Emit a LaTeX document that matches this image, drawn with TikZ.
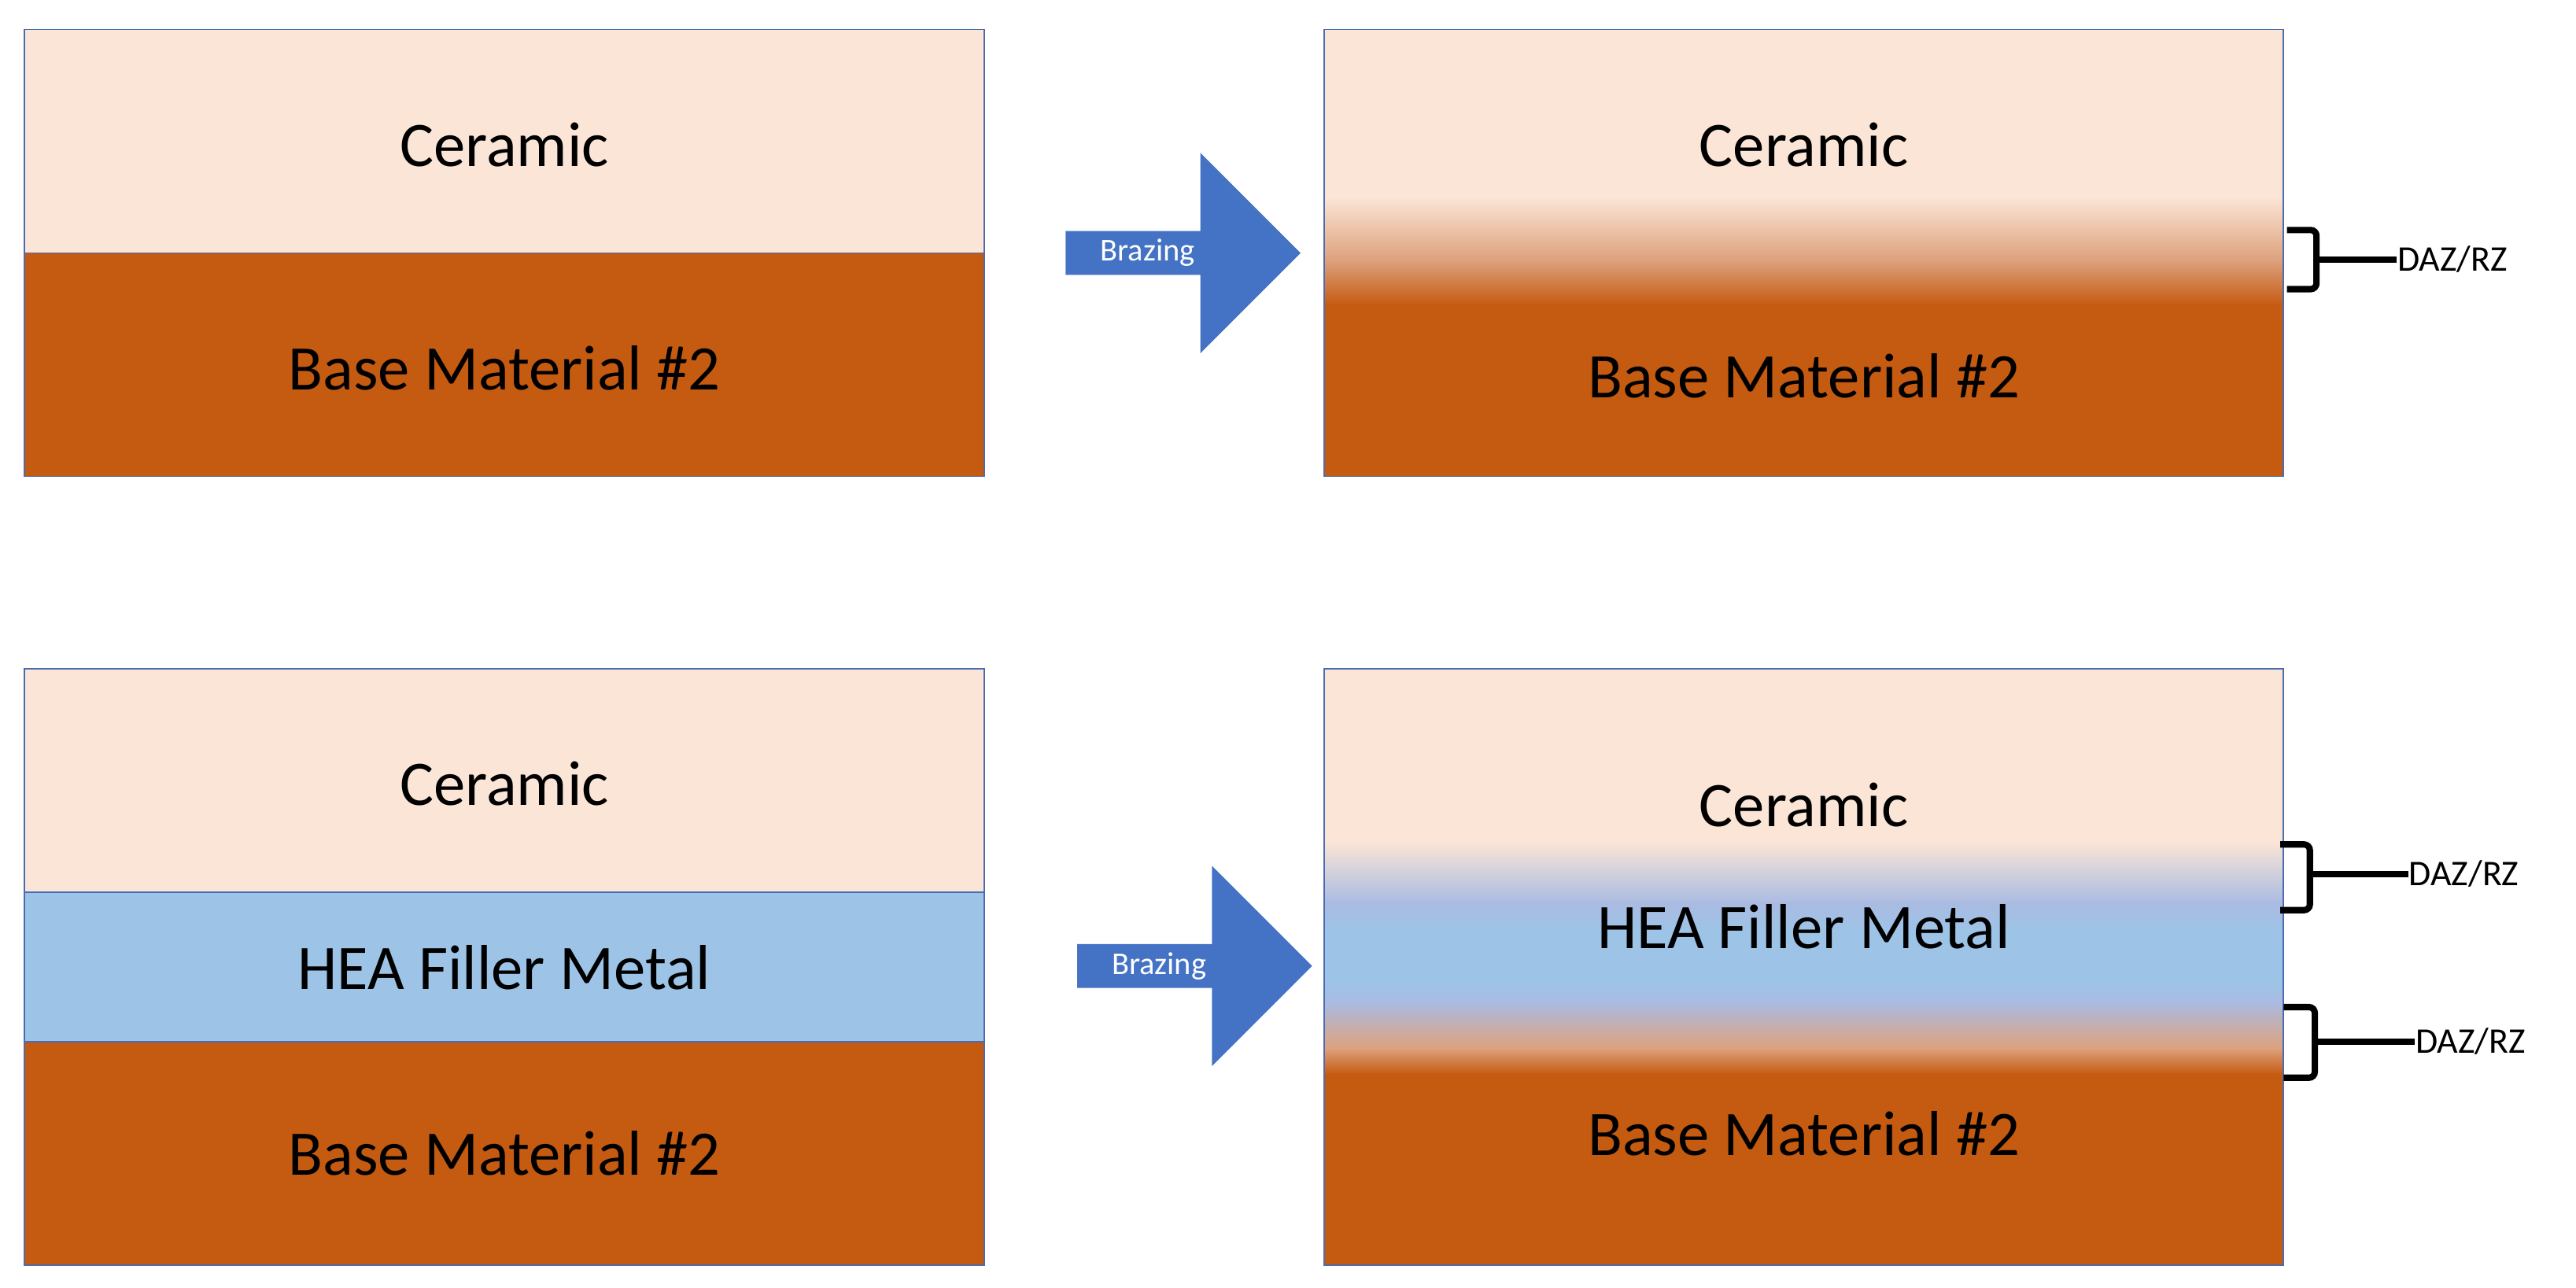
\documentclass[tikz,border=0pt]{standalone}
\usepackage{fontspec}
\setmainfont{Carlito}
\usetikzlibrary{positioning,shapes.arrows}
\definecolor{ceramic}{HTML}{FBE5D6}
\definecolor{basemat}{HTML}{C55A11}
\definecolor{filler}{HTML}{9DC3E6}
\definecolor{lavender}{HTML}{AABBE2}
\definecolor{tan}{HTML}{DDA27E}
\definecolor{arrowblue}{HTML}{4472C4}
\definecolor{edge}{HTML}{4A6BB0}
\tikzset{
  layer/.style={draw=none, inner sep=0pt, font=\fontsize{22}{26}\selectfont},
  frame/.style={draw=edge, line width=0.5pt},
  brazing/.style={single arrow, fill=arrowblue, draw=none, text=white,
    minimum height=2.86cm, minimum width=2.44cm, single arrow head extend=0.62cm,
    single arrow tip angle=90, inner sep=0pt, font=\fontsize{11}{13}\selectfont},
  brace/.style={line width=2.2pt, rounded corners=2pt},
  zone/.style={inner sep=0pt, anchor=west, font=\fontsize{12.5}{14}\selectfont},
}
\begin{document}
\begin{tikzpicture}[x=0.02cm, y=-0.02cm]
  \useasboundingbox (0,0) rectangle (1568,784);

  % top left: before brazing
  \fill[ceramic] (15,18) rectangle (599,154);
  \fill[basemat] (15,154) rectangle (599,290);
  \draw[frame] (15,18) rectangle (599,290);
  \draw[frame] (15,154) -- (599,154);
  \node[layer] (tlc) at (307,88) {Ceramic};
  \node[layer] (tlb) at (307,224) {Base Material \#2};

  % top right: after brazing
  \fill[ceramic] (806,18) rectangle (1390,120);
  \shade[top color=ceramic, bottom color=tan] (806,120) rectangle (1390,158);
  \shade[top color=tan, bottom color=basemat] (806,158) rectangle (1390,186);
  \fill[basemat] (806,186) rectangle (1390,290);
  \draw[frame] (806,18) rectangle (1390,290);
  \node[layer] (trc) at (1098,88) {Ceramic};
  \node[layer] (trb) at (1098,229) {Base Material \#2};

  \node[brazing] (arr1) at (713.5,154) {Brazing\hspace*{6mm}};

  \coordinate (b1a) at (1392,140);
  \coordinate (b1b) at (1392,176);
  \node[zone] (z1) at (1459,158) {DAZ/RZ};
  \draw[brace] (b1a) -- (1410,140) -- (1410,176) -- (b1b);
  \draw[line width=2.2pt] (1410,158) -- (z1.west);

  % bottom left: before brazing
  \fill[ceramic] (15,407) rectangle (599,543);
  \fill[filler] (15,543) rectangle (599,634);
  \fill[basemat] (15,634) rectangle (599,770);
  \draw[frame] (15,407) rectangle (599,770);
  \draw[frame] (15,543) -- (599,543);
  \draw[frame] (15,634) -- (599,634);
  \node[layer] (blc) at (307,477) {Ceramic};
  \node[layer] (blf) at (307,589) {HEA Filler Metal};
  \node[layer] (blb) at (307,702) {Base Material \#2};

  % bottom right: after brazing
  \fill[ceramic] (806,407) rectangle (1390,512);
  \shade[top color=ceramic, bottom color=lavender] (806,512) rectangle (1390,550);
  \shade[top color=lavender, bottom color=filler] (806,550) rectangle (1390,566);
  \fill[filler] (806,566) rectangle (1390,598);
  \shade[top color=filler, bottom color=lavender] (806,598) rectangle (1390,610);
  \shade[top color=lavender, bottom color=tan] (806,610) rectangle (1390,638);
  \shade[top color=tan, bottom color=basemat] (806,638) rectangle (1390,654);
  \fill[basemat] (806,654) rectangle (1390,770);
  \draw[frame] (806,407) rectangle (1390,770);
  \node[layer] (brc) at (1098,490) {Ceramic};
  \node[layer] (brf) at (1098,564) {HEA Filler Metal};
  \node[layer] (brb) at (1098,690) {Base Material \#2};

  \node[brazing] (arr2) at (720.5,588) {Brazing\hspace*{6mm}};

  \coordinate (b2a) at (1388,514);
  \coordinate (b2b) at (1388,554);
  \node[zone] (z2) at (1466,532) {DAZ/RZ};
  \draw[brace] (b2a) -- (1406,514) -- (1406,554) -- (b2b);
  \draw[line width=2.2pt] (1406,532) -- (z2.west);

  \coordinate (b3a) at (1390,613);
  \coordinate (b3b) at (1390,656);
  \node[zone] (z3) at (1470,634) {DAZ/RZ};
  \draw[brace] (b3a) -- (1409,613) -- (1409,656) -- (b3b);
  \draw[line width=2.2pt] (1409,634) -- (z3.west);
\end{tikzpicture}
\end{document}
